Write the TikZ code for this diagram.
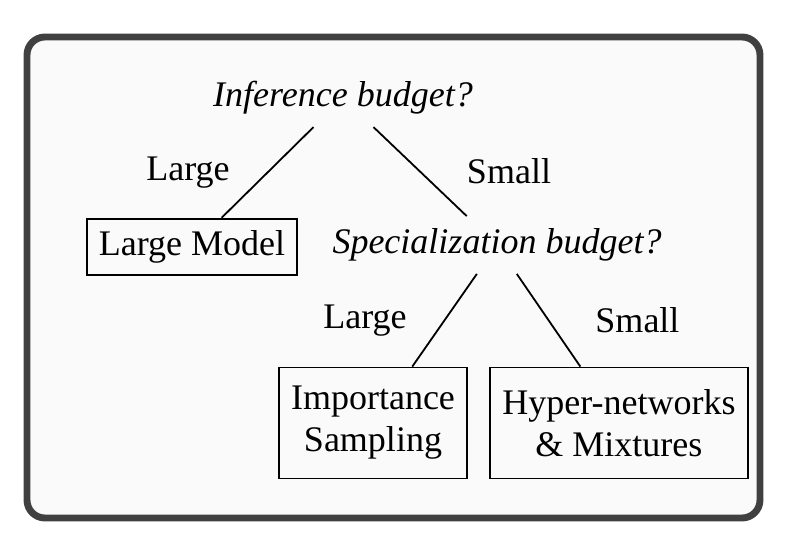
\documentclass[tikz,border=0pt]{standalone}
\usepackage{fontspec}
\setmainfont{Liberation Serif}
\usetikzlibrary{positioning}
\definecolor{framegray}{HTML}{404040}
\definecolor{framefill}{HTML}{FAFAFA}

\begin{document}
\begin{tikzpicture}[
    on grid,
    question/.style={font=\large\itshape, inner sep=4pt},
    choice/.style={rectangle, draw=black, line width=0.6pt, font=\large, align=center, inner sep=4pt},
    branch/.style={line width=0.6pt, black},
    lbl/.style={font=\large}
]
\useasboundingbox (0,0) rectangle (263.33pt,-179pt);

% Frame
\draw[framegray, fill=framefill, line width=2.3pt, rounded corners=6pt]
    (9pt,-12.33pt) rectangle (253.33pt,-172.67pt);

% Level 1: inference budget
\node[question] (inf) at (114.33pt,-32.67pt) {Inference budget?};
\node[choice, minimum height=18.3pt, below left=49.67pt and 50.33pt of inf] (large_model) {Large Model};
\node[question, below right=49pt and 51.33pt of inf] (spec) {Specialization budget?};

% Level 2: specialization budget
\node[choice, minimum height=37pt, minimum width=62.7pt, below left=59.33pt and 41.33pt of spec] (imp) {Importance\\Sampling};
\node[choice, minimum height=37pt, minimum width=84pt, below right=59.33pt and 40.67pt of spec] (hyper) {Hyper-networks\\\& Mixtures};

% Branches
\draw[branch] (inf) -- node[lbl, midway, left=9pt] {Large} (large_model);
\draw[branch] (inf) -- node[lbl, midway, right=12pt] {Small} (spec);
\draw[branch] (spec) -- node[lbl, midway, left=9pt] {Large} (imp);
\draw[branch] (spec) -- node[lbl, midway, right=12pt] {Small} (hyper);

\end{tikzpicture}
\end{document}
